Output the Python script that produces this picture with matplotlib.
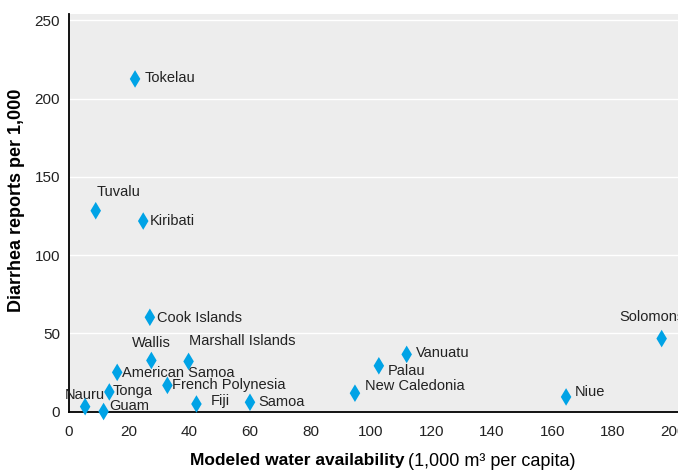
import matplotlib
matplotlib.use("Agg")
import matplotlib.pyplot as plt

names = ["Tokelau", "Tuvalu", "Kiribati", "Cook Islands", "Wallis", "Marshall Islands",
         "American Samoa", "French Polynesia", "Tonga", "Nauru", "Guam", "Fiji", "Samoa",
         "New Caledonia", "Palau", "Vanuatu", "Niue", "Solomons"]
water = [22.0, 9.0, 24.7, 26.9, 27.4, 39.7, 16.1, 32.7, 13.5, 5.5, 11.6, 42.3, 60.0,
         94.7, 102.6, 111.8, 164.5, 196.1]
diarrhea = [212.5, 128.3, 121.7, 60.2, 32.6, 32.0, 25.0, 16.7, 12.5, 3.1, 0.0, 4.8, 5.9,
            11.7, 29.2, 36.5, 9.3, 46.6]
xticks = [0, 20, 40, 60, 80, 100, 120, 140, 160, 180, 200]
yticks = [0, 50, 100, 150, 200, 250]

# label offsets in pixels (dx, dy, ha)
offsets = {
    "Tokelau": (10, 1, "left"), "Tuvalu": (1, 19, "left"), "Kiribati": (7, 0, "left"),
    "Cook Islands": (7, -1, "left"), "Wallis": (0, 17, "center"),
    "Marshall Islands": (0, 20, "left"), "American Samoa": (5, -1, "left"),
    "French Polynesia": (5, 0, "left"), "Tonga": (3, 1, "left"), "Nauru": (0, 12, "center"),
    "Guam": (6, 6, "left"), "Fiji": (14, 3, "left"), "Samoa": (8, 0, "left"),
    "New Caledonia": (10, 7, "left"), "Palau": (9, -5, "left"), "Vanuatu": (9, 1, "left"),
    "Niue": (9, 5, "left"), "Solomons": (-42, 22, "left"),
}

plt.rcParams["font.family"] = ["Liberation Sans", "DejaVu Sans"]

fig = plt.figure(figsize=(6.78, 4.71), dpi=100)
ax = fig.add_axes([68.5 / 678, 59.5 / 471, 1 - 68.5 / 678, (411.5 - 14) / 471])
ax.set_facecolor("#ededed")
ax.set_xlim(0, 201.5)
ax.set_ylim(0, 254)
ax.set_xticks(xticks)
ax.set_yticks(yticks)
ax.tick_params(length=0, labelsize=11, colors="#222222")
ax.tick_params(axis="x", pad=10)
ax.tick_params(axis="y", pad=6)
for s in ["top", "right"]:
    ax.spines[s].set_visible(False)
for s in ["left", "bottom"]:
    ax.spines[s].set_linewidth(1.3)
    ax.spines[s].set_color("black")
ax.grid(axis="y", color="white", linewidth=1.0)
ax.set_axisbelow(True)

ax.scatter(water, diarrhea, marker="d", s=80, color="#00a3e6", edgecolors="none",
           zorder=5, clip_on=False)
for n, x, y in zip(names, water, diarrhea):
    dx, dy, ha = offsets[n]
    ax.annotate(n, (x, y), xytext=(dx, dy), textcoords="offset pixels", ha=ha,
                va="center", fontsize=10.5, color="#222222", annotation_clip=False)

ax.set_ylabel("Diarrhea reports per 1,000", fontsize=13, fontweight="bold")
ax.yaxis.set_label_coords(-(68.5 - 25) / (678 - 68.5), (411.5 - 200) / (411.5 - 14))
t1 = fig.text(190 / 678, 1 - 461 / 471, "Modeled water availability", fontsize=12.5,
              fontweight="bold", ha="left", va="center")
fig.canvas.draw()
bb = t1.get_window_extent()
fig.text((bb.x1 + 4) / 678, 1 - 461 / 471, "(1,000 m³ per capita)", fontsize=13,
         ha="left", va="center")

fig.savefig("out.png", dpi=100)
